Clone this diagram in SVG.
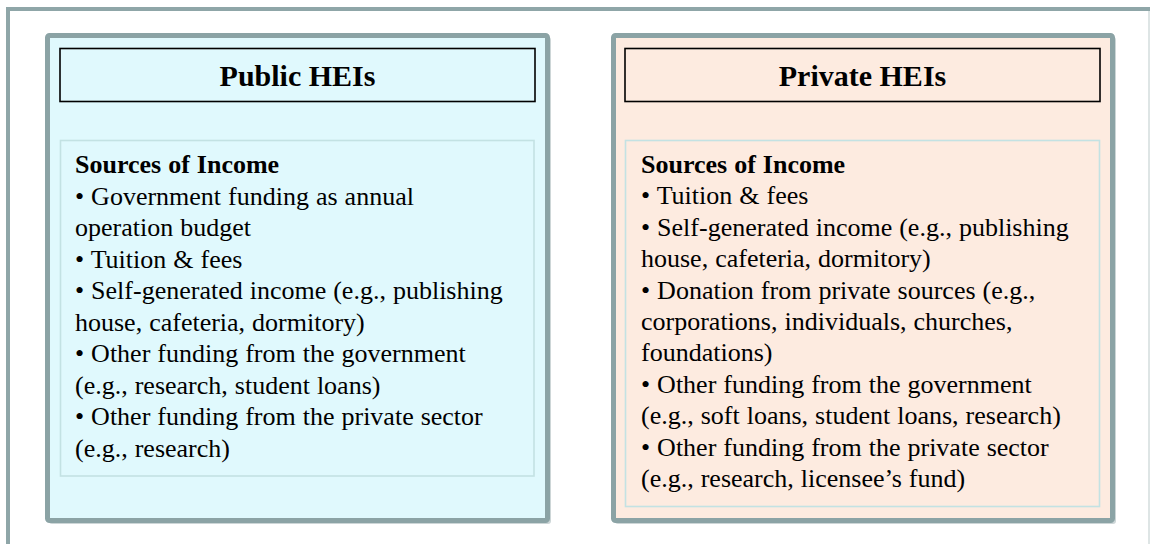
<svg xmlns="http://www.w3.org/2000/svg" width="1150" height="544" viewBox="0 0 1150 544">
<style>
.frame{fill:none;stroke:#8fa6a8;stroke-width:4}
.box{stroke:#8ba3a5;stroke-width:5}
.shadow{fill:none;stroke:#cdd6d7;stroke-width:2}
.pub{fill:#e0f9fd}
.pri{fill:#fdebe0}
.hdr{fill:none;stroke:#000;stroke-width:1.6}
.inner{fill:none;stroke:#c3e2e3;stroke-width:1.6}
.title{font-family:"Liberation Serif","Times New Roman",serif;font-weight:bold;font-size:30px;fill:#000;text-anchor:middle}
.body{font-family:"Liberation Serif","Times New Roman",serif;font-size:26px;fill:#000;word-spacing:0.5px}
.bold{font-weight:bold}
</style>
<rect width="1150" height="544" fill="#fff"/>
<path class="frame" d="M1152,9 H8 V548"/>
<line x1="1149" y1="11" x2="1149" y2="544" stroke="#d3dcdd" stroke-width="1.5"/>
<g id="connectors"></g>
<g id="public-heis">
<rect class="shadow" x="50" y="38" width="500" height="485" rx="2"/>
<rect class="box pub" x="47.5" y="35.5" width="500" height="485" rx="2"/>
<rect class="hdr" x="60" y="48.5" width="475" height="53"/>
<text class="title" x="297.5" y="86">Public HEIs</text>
<rect class="inner" x="60.5" y="140.5" width="473.5" height="335.5"/>
<text class="body" x="75">
<tspan class="bold" x="75" y="173">Sources of Income</tspan>
<tspan x="75" y="204.5">• Government funding as annual</tspan>
<tspan x="75" y="236">operation budget</tspan>
<tspan x="75" y="267.5">• Tuition &amp; fees</tspan>
<tspan x="75" y="299">• Self-generated income (e.g., publishing</tspan>
<tspan x="75" y="330.5">house, cafeteria, dormitory)</tspan>
<tspan x="75" y="362">• Other funding from the government</tspan>
<tspan x="75" y="393.5">(e.g., research, student loans)</tspan>
<tspan x="75" y="425">• Other funding from the private sector</tspan>
<tspan x="75" y="456.5">(e.g., research)</tspan>
</text>
</g>
<g id="private-heis">
<rect class="shadow" x="616" y="38" width="499" height="485" rx="2"/>
<rect class="box pri" x="613.5" y="35.5" width="499" height="485" rx="2"/>
<rect class="hdr" x="625" y="48.5" width="475" height="53"/>
<text class="title" x="862.5" y="86">Private HEIs</text>
<rect class="inner" x="625.5" y="140.5" width="474" height="366"/>
<text class="body" x="641">
<tspan class="bold" x="641" y="173">Sources of Income</tspan>
<tspan x="641" y="204.4">• Tuition &amp; fees</tspan>
<tspan x="641" y="235.8">• Self-generated income (e.g., publishing</tspan>
<tspan x="641" y="267.2">house, cafeteria, dormitory)</tspan>
<tspan x="641" y="298.6">• Donation from private sources (e.g.,</tspan>
<tspan x="641" y="330">corporations, individuals, churches,</tspan>
<tspan x="641" y="361.4">foundations)</tspan>
<tspan x="641" y="392.8">• Other funding from the government</tspan>
<tspan x="641" y="424.2">(e.g., soft loans, student loans, research)</tspan>
<tspan x="641" y="455.6">• Other funding from the private sector</tspan>
<tspan x="641" y="487">(e.g., research, licensee’s fund)</tspan>
</text>
</g>
</svg>
